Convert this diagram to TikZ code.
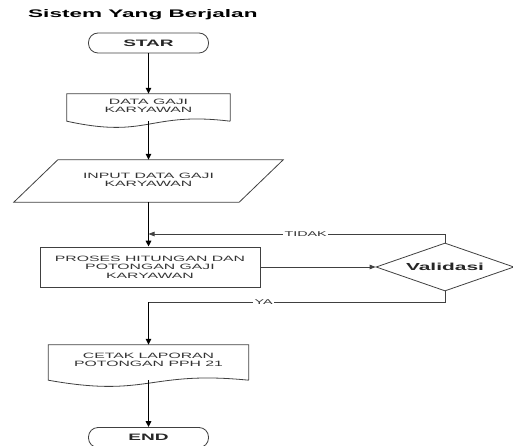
\documentclass[tikz,border=0pt]{standalone}
\usepackage{fontspec}
\setmainfont{Liberation Sans}[FakeStretch=2.05]
\usetikzlibrary{arrows.meta,shapes.geometric,calc}
\begin{document}
\begin{tikzpicture}[x=1pt,y=-1pt,
  outline/.style={draw=black!75,line width=0.8pt},
  boxtext/.style={align=center,font=\fontsize{7.7}{8.6}\selectfont,text=black!80,inner sep=0pt},
  frame/.style={inner sep=0pt,minimum width=#1},
  term/.style={outline,rounded corners=9.5pt,minimum width=120pt,minimum height=20pt,inner sep=0pt,font=\bfseries\fontsize{9.3}{10}\selectfont,text=black!85},
  mainarrow/.style={line width=1.4pt,-{Triangle[length=6pt,width=5.5pt]}},
  thinline/.style={draw=black!75,line width=0.8pt},
  thinarrow/.style={thinline,-{Triangle[length=6pt,width=4.5pt]}},
  lbl/.style={fill=white,inner sep=1.5pt,font=\fontsize{7}{8}\selectfont,text=black!80}
]
\useasboundingbox (0,0) rectangle (513,446);

% title
\node[anchor=base west,inner sep=0pt,font=\bfseries\fontsize{11}{13}\selectfont] (title) at (28,17.7) {Sistem Yang Berjalan};

% terminals
\node[term] (star) at (148.5,43) {STAR};
\node[term] (endt) at (148.5,437.5) {END};

% document: data
\node[frame=163pt,minimum height=27pt] (data) at (148.5,107.5) {};
\draw[outline] (data.south east) -- (data.north east) -- (data.north west) -- (data.south west)
  .. controls ($(data.south)+(0,18)$) and ($(data.south)+(0,-10)$) .. (data.south east);
\node[boxtext] (datat) at ([yshift=1.5pt]data.center) {DATA GAJI\\KARYAWAN};

% input parallelogram
\node[frame=269pt,minimum height=42pt] (input) at (148.5,181) {};
\draw[outline] ($(input.north west)+(44,0)$) -- (input.north east) -- ($(input.south east)+(-44,0)$) -- (input.south west) -- cycle;
\node[boxtext] (inputt) at ([yshift=1.3pt]input.center) {INPUT DATA GAJI\\KARYAWAN};

% process
\node[outline,boxtext,minimum width=220pt,minimum height=40pt,font=\fontsize{7.7}{8.4}\selectfont] (proc) at (150,267) {PROSES HITUNGAN DAN\\POTONGAN GAJI\\KARYAWAN};

% decision
\node[diamond,outline,aspect=2.9,minimum width=138pt,minimum height=48pt,inner sep=0pt,font=\bfseries\fontsize{10.2}{11}\selectfont,text=black!85] (val) at (445,267) {Validasi};

% document: cetak
\node[frame=200pt,minimum height=35pt] (cetak) at (148.5,362.5) {};
\draw[outline] (cetak.south east) -- (cetak.north east) -- (cetak.north west) -- (cetak.south west)
  .. controls ($(cetak.south)+(0,18)$) and ($(cetak.south)+(0,-10)$) .. (cetak.south east);
\node[boxtext] (cetakt) at ([yshift=2.8pt]cetak.center) {CETAK LAPORAN\\POTONGAN PPH 21};

% junction coordinates
\coordinate (tj) at (148.5,234);
\coordinate (ya) at (148.5,302);

% connectors
\draw[mainarrow] (star.south) -- (star.south |- data.north);
\draw[mainarrow] (data.south) -- (data.south |- input.north);
\draw[mainarrow] (input.south) -- (input.south |- proc.north);
\draw[thinarrow] (proc.east) -- (val.west);
\draw[thinarrow] (val.north) |- node[lbl,pos=0.735]{TIDAK} (tj);
\draw[thinline] (val.south) |- node[lbl,pos=0.806]{YA} (ya);
\draw[mainarrow] (ya) -- (ya |- cetak.north);
\draw[mainarrow] (cetak.south) -- (cetak.south |- endt.north);
\end{tikzpicture}
\end{document}
